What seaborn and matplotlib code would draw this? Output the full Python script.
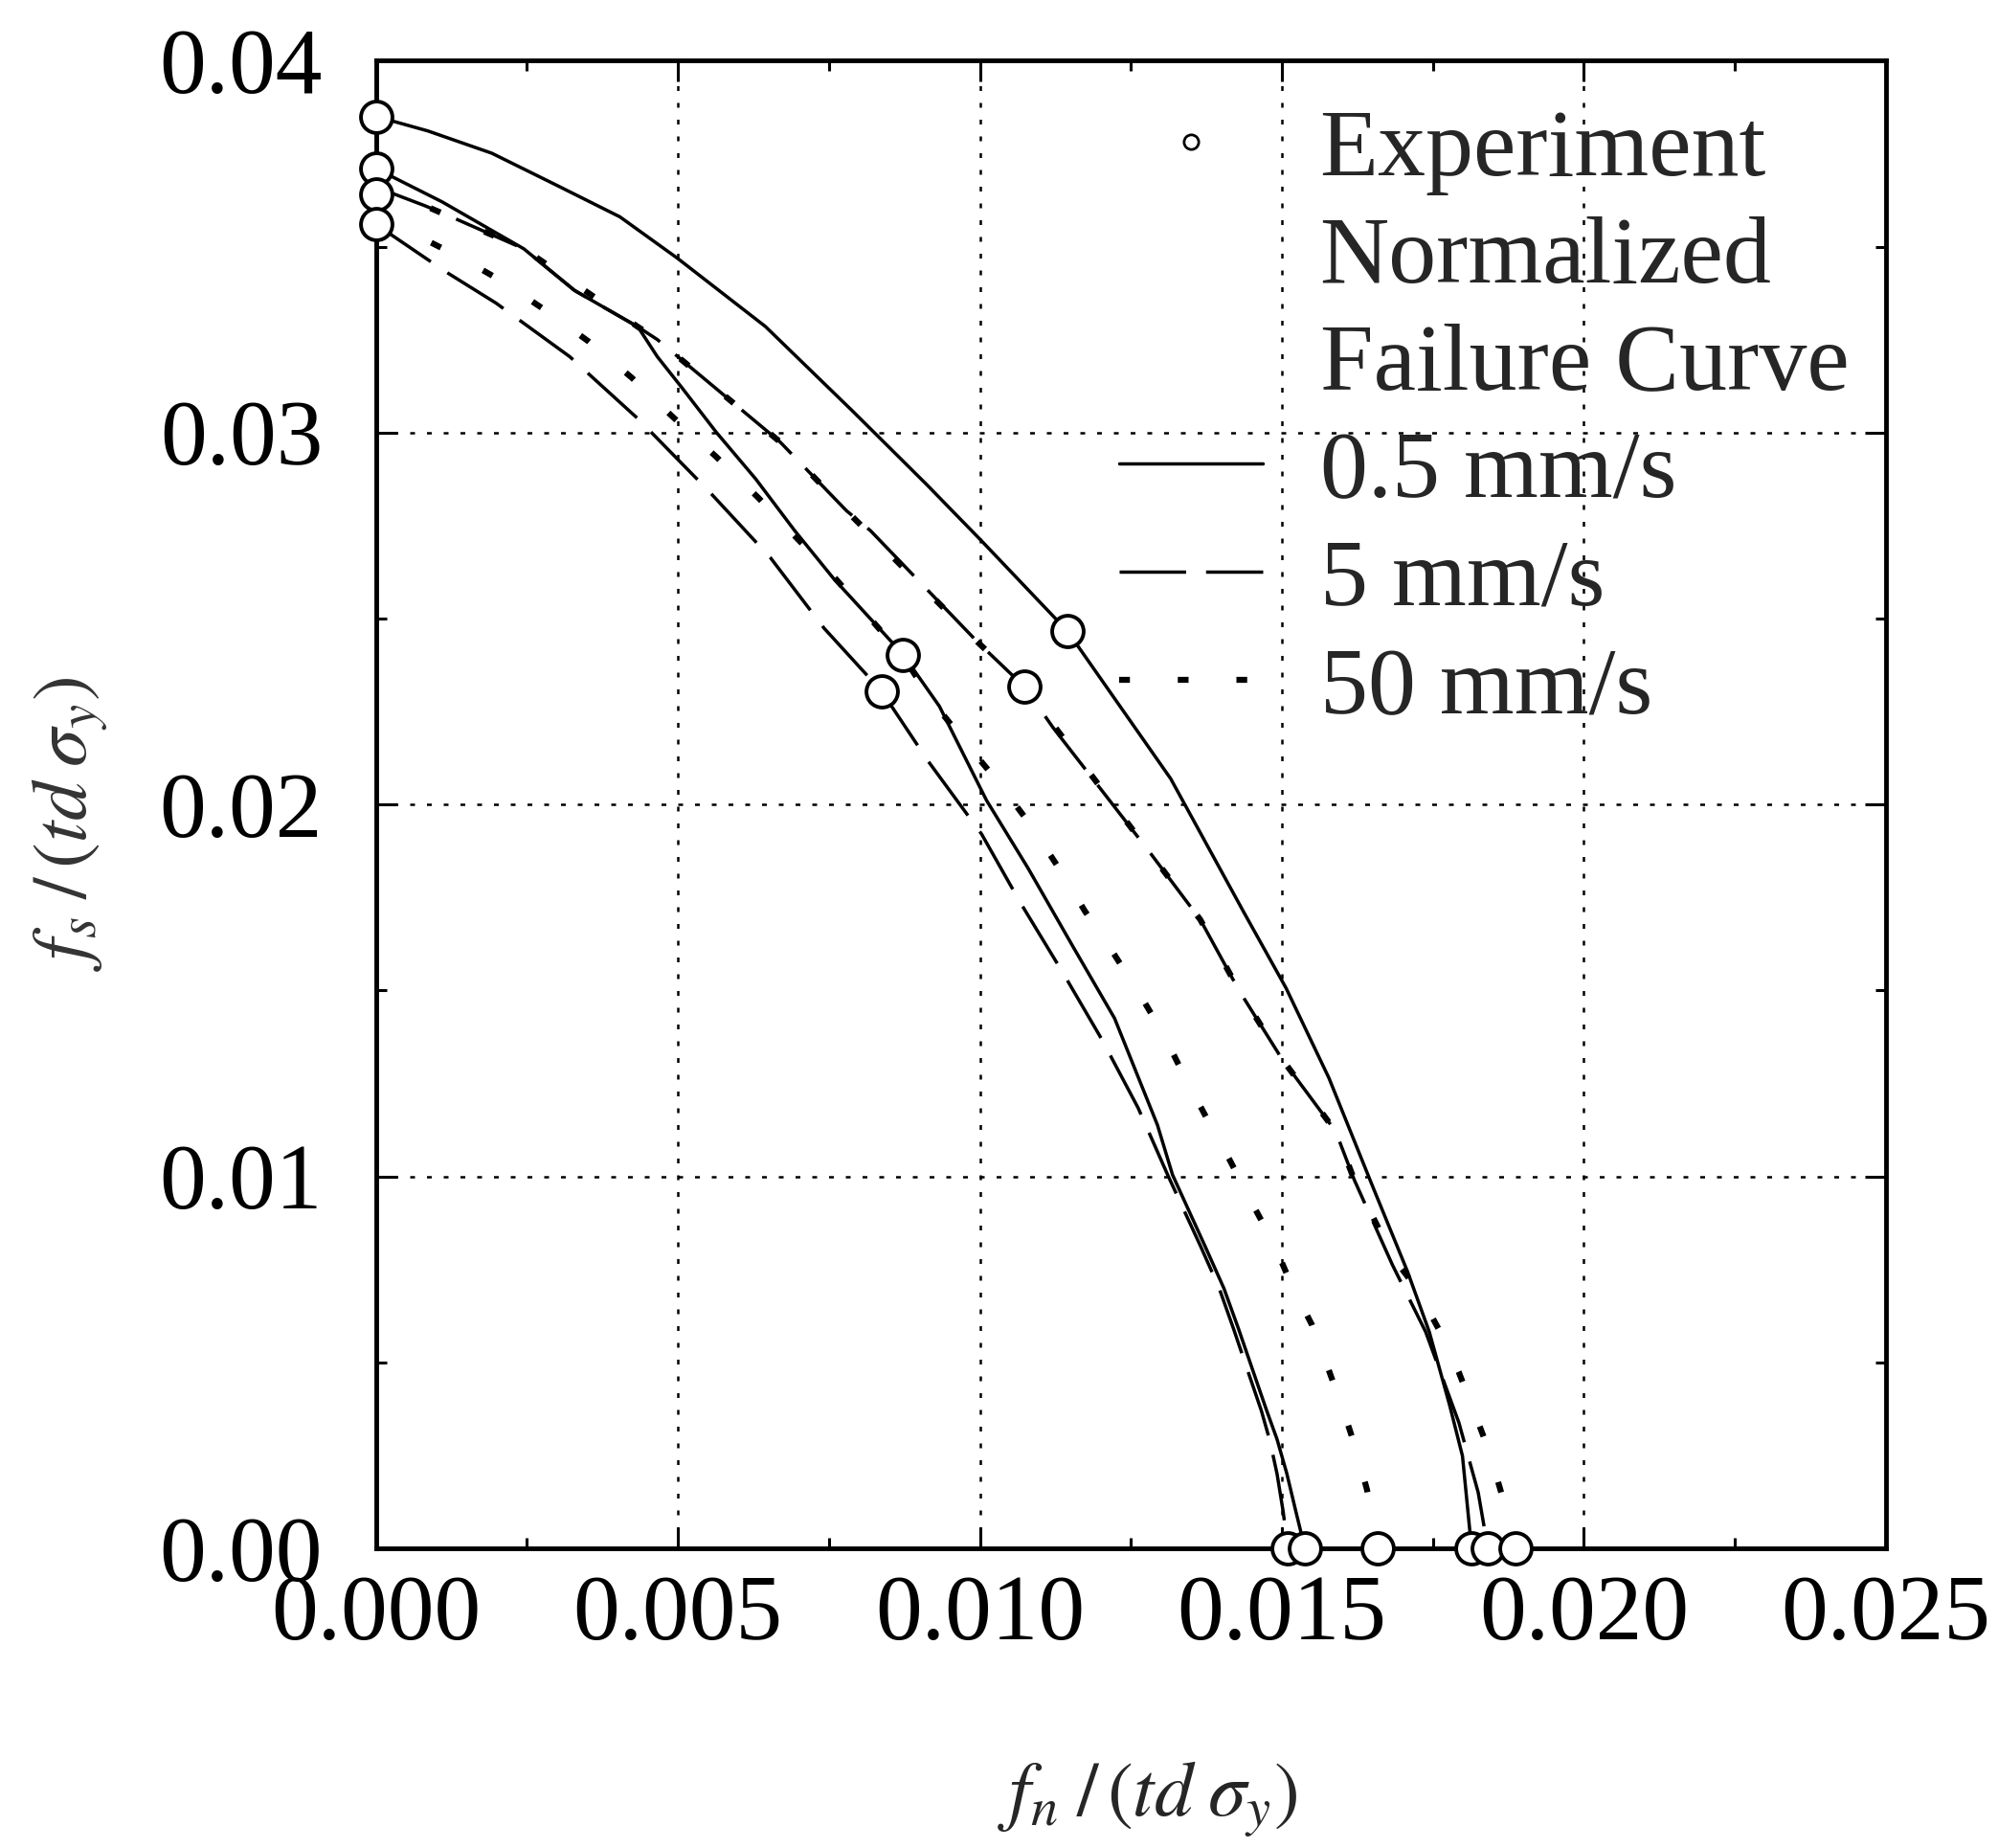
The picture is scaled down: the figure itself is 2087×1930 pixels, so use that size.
import numpy as np
import pandas as pd
import matplotlib
matplotlib.use("Agg")
import matplotlib.pyplot as plt
from matplotlib.lines import Line2D
from matplotlib.ticker import MultipleLocator, FormatStrFormatter
import seaborn as sns

# ==============================
# DATA
# ==============================

# 0.5 mm/s, outer curve
solid_a_x = [0.0, 0.00086, 0.00192, 0.00298, 0.00404, 0.00499, 0.00645, 0.00791, 0.00912,
             0.01002, 0.01145, 0.01316, 0.01436, 0.01507, 0.01578, 0.01651, 0.01708,
             0.01744, 0.01778, 0.01799, 0.01814]
solid_a_y = [0.0385, 0.03811, 0.03751, 0.03666, 0.0358, 0.03469, 0.03285, 0.03055, 0.0286,
             0.0271, 0.02466, 0.02069, 0.01713, 0.01506, 0.01264, 0.0097, 0.00744,
             0.00582, 0.00383, 0.00248, 0.0]

# 0.5 mm/s, inner curve
solid_b_x = [0.0, 0.0011, 0.00245, 0.00329, 0.00434, 0.00466, 0.00507, 0.00564, 0.00629,
             0.00694, 0.00758, 0.00872, 0.00933, 0.01011, 0.0108, 0.01153, 0.01223, 0.01294,
             0.01319, 0.01374, 0.01404, 0.01428, 0.01453, 0.01474, 0.01492, 0.01508,
             0.01523, 0.01538]
solid_b_y = [0.0371, 0.0362, 0.03494, 0.03382, 0.03284, 0.03204, 0.0312, 0.0300, 0.02875,
             0.02735, 0.02607, 0.02405, 0.02264, 0.02011, 0.01828, 0.01621, 0.01425, 0.01138,
             0.01004, 0.00808, 0.00699, 0.00591, 0.00473, 0.00374, 0.00293, 0.00202,
             0.001, 0.0]

# 5 mm/s, outer curve
dash_a_x = [0.0, 0.00081, 0.00112, 0.00245, 0.00329, 0.00434, 0.00466, 0.00669, 0.00779,
            0.00819, 0.00996, 0.01074, 0.01121, 0.0128, 0.01365, 0.01429, 0.015, 0.01589,
            0.0162, 0.01683, 0.01738, 0.01793, 0.01825, 0.01841]
dash_a_y = [0.0366, 0.0361, 0.03589, 0.03494, 0.03382, 0.03284, 0.0325, 0.02975, 0.0279,
            0.02736, 0.02437, 0.02316, 0.02207, 0.01874, 0.0169, 0.015, 0.01316, 0.01121,
            0.0099, 0.00762, 0.00582, 0.00338, 0.0015, 0.0]

# 5 mm/s, inner curve
dash_b_x = [0.0, 0.00114, 0.00199, 0.00321, 0.00434, 0.00548, 0.00653, 0.00742, 0.00837,
            0.00915, 0.01003, 0.01067, 0.01138, 0.01202, 0.01262, 0.01312, 0.01366,
            0.01396, 0.0142, 0.01445, 0.01466, 0.0148, 0.01492, 0.01502, 0.0151]
dash_b_y = [0.0356, 0.03434, 0.03348, 0.03204, 0.03037, 0.02848, 0.02664, 0.02474, 0.02305,
            0.02115, 0.0192, 0.01736, 0.01546, 0.01368, 0.01184, 0.0100, 0.0081,
            0.0070, 0.0059, 0.0047, 0.0037, 0.0029, 0.0020, 0.0010, 0.0]

# 50 mm/s, inner curve
dot_c_x = [0.0, 0.00073, 0.00142, 0.00211, 0.00284, 0.00353, 0.00424, 0.00491, 0.00564,
           0.00633, 0.00697, 0.00758, 0.00872, 0.00922, 0.00979, 0.01032, 0.01085, 0.01131,
           0.01174, 0.0122, 0.01265, 0.01305, 0.01338, 0.01376, 0.01413, 0.0145, 0.01486,
           0.01516, 0.0155, 0.01577, 0.01601, 0.01622, 0.01641, 0.01658]
dot_c_y = [0.0356, 0.03526, 0.03469, 0.03405, 0.03325, 0.03244, 0.03147, 0.03043, 0.02934,
           0.02825, 0.02716, 0.02613, 0.0240, 0.02276, 0.02161, 0.02057, 0.01943, 0.01828,
           0.01713, 0.01603, 0.01489, 0.01379, 0.01271, 0.01155, 0.01046, 0.0093, 0.00821,
           0.00708, 0.0060, 0.00482, 0.00374, 0.0027, 0.00157, 0.0]

# 50 mm/s, outer curve
dot_d_x = [0.0, 0.00081, 0.00245, 0.00434, 0.00466, 0.00669, 0.00779, 0.00996, 0.01074,
           0.0128, 0.01365, 0.01429, 0.015, 0.01589, 0.0162, 0.01685, 0.01723, 0.01759,
           0.01793, 0.0182, 0.01844, 0.01865, 0.01887]
dot_d_y = [0.0366, 0.0361, 0.03494, 0.03284, 0.0325, 0.02975, 0.0279, 0.02437, 0.02316,
           0.01874, 0.0169, 0.015, 0.01316, 0.01121, 0.0099, 0.0078, 0.00699, 0.00591,
           0.00473, 0.0036, 0.00257, 0.00139, 0.0]

# experiment points
exp_x = [0.0, 0.0, 0.0, 0.0, 0.00837, 0.00872, 0.01074, 0.01145,
         0.0151, 0.01538, 0.01658, 0.01814, 0.01841, 0.01887]
exp_y = [0.0385, 0.0371, 0.0364, 0.0356, 0.02305, 0.02402, 0.02316, 0.02466,
         0.0, 0.0, 0.0, 0.0, 0.0, 0.0]

x_ticks = [0.000, 0.005, 0.010, 0.015, 0.020, 0.025]
y_ticks = [0.00, 0.01, 0.02, 0.03, 0.04]

legend_labels = ["Experiment", "Normalized\nFailure Curve", "0.5 mm/s", "5 mm/s", "50 mm/s"]

# ==============================
# STYLE
# ==============================

sns.set_style("ticks")
plt.rcParams["font.family"] = ["Liberation Serif", "DejaVu Serif"]
plt.rcParams["mathtext.fontset"] = "stix"

SOLID = "-"
DASH = (0, (20, 6))
DOT = (0, (1.8, 8))

curves = [
    (solid_a_x, solid_a_y, SOLID, 2.5),
    (solid_b_x, solid_b_y, SOLID, 2.5),
    (dash_a_x, dash_a_y, DASH, 2.5),
    (dash_b_x, dash_b_y, DASH, 2.5),
    (dot_c_x, dot_c_y, DOT, 4.5),
    (dot_d_x, dot_d_y, DOT, 4.5),
]

# ==============================
# FIGURE
# ==============================

fig = plt.figure(figsize=(20.87, 19.30), dpi=100)
ax = fig.add_axes([0.1881, 0.1622, 0.7558, 0.805])

for cx, cy, ls, lw in curves:
    sns.lineplot(x=cx, y=cy, ax=ax, color="black", linestyle=ls, linewidth=lw,
                 sort=False, estimator=None, zorder=3)

exp_df = pd.DataFrame({"fn": exp_x, "fs": exp_y})
sns.scatterplot(data=exp_df, x="fn", y="fs", ax=ax, marker="o", s=560,
                facecolor="white", edgecolor="black", linewidth=2.8,
                zorder=5, clip_on=False)

ax.set_xlim(0, 0.025)
ax.set_ylim(0, 0.04)
ax.set_xticks(x_ticks)
ax.set_yticks(y_ticks)
ax.xaxis.set_major_formatter(FormatStrFormatter("%.3f"))
ax.yaxis.set_major_formatter(FormatStrFormatter("%.2f"))
ax.xaxis.set_minor_locator(MultipleLocator(0.0025))
ax.yaxis.set_minor_locator(MultipleLocator(0.005))

ax.tick_params(which="both", direction="in", top=True, right=True, width=2.2, colors="black")
ax.tick_params(which="major", length=16)
ax.tick_params(which="minor", length=8)
ax.tick_params(axis="x", which="major", labelsize=70, pad=20)
ax.tick_params(axis="y", which="major", labelsize=70, pad=40)

ax.grid(True, which="major", color="black", linestyle=(0, (2, 5)), linewidth=1.8)

for sp in ax.spines.values():
    sp.set_linewidth(3.5)
    sp.set_color("black")

ax.set_xlabel(r"$f_n\;/\,(td\;\sigma_y)$", fontsize=58)
ax.set_ylabel(r"$f_s\;/\,(td\;\sigma_y)$", fontsize=58, color="#333333")
ax.xaxis.set_label_coords(0.511, -0.142)
ax.yaxis.set_label_coords(-0.176, 0.487)

handles = [
    Line2D([], [], linestyle="none", marker="o", markersize=11,
           markerfacecolor="white", markeredgecolor="black", markeredgewidth=2),
    Line2D([], [], linestyle="none"),
    Line2D([], [], color="black", linestyle=SOLID, linewidth=2.5),
    Line2D([], [], color="black", linestyle=DASH, linewidth=2.5),
    Line2D([], [], color="black", linestyle=DOT, linewidth=4.5),
]
leg = ax.legend(handles, legend_labels, loc="upper left", bbox_to_anchor=(0.492, 0.968),
                frameon=False, fontsize=72, borderpad=0, borderaxespad=0,
                handlelength=1.5, handletextpad=0.6, labelspacing=0.22)
for t in leg.get_texts():
    t.set_linespacing(1.3)

fig.savefig("out.png", dpi=100, facecolor="white")
